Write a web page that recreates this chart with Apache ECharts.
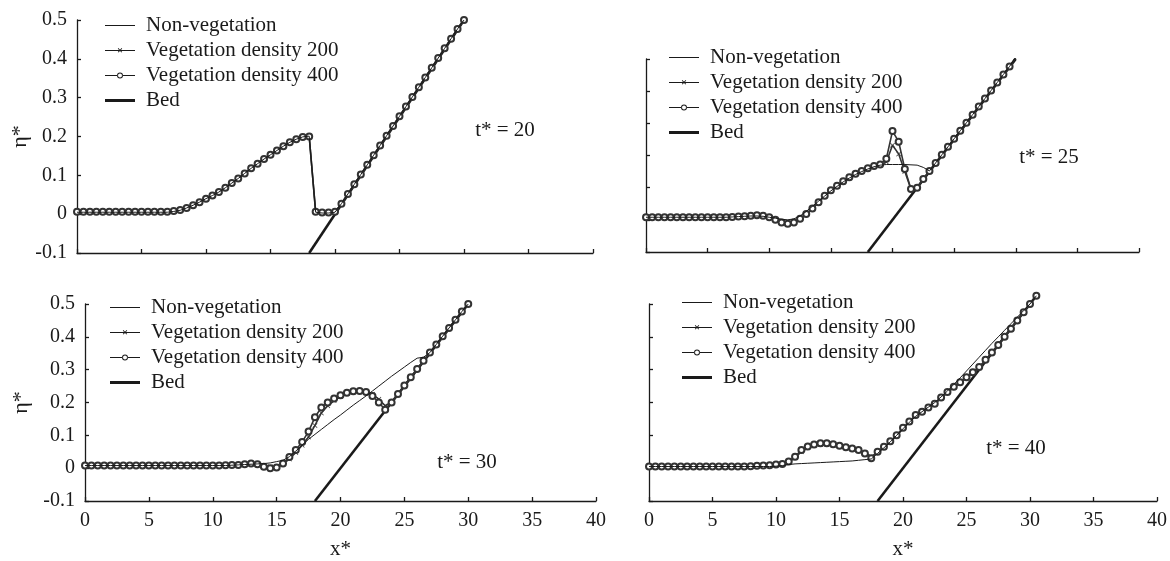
<!DOCTYPE html>
<html>
<head>
<meta charset="utf-8">
<script src="https://cdn.jsdelivr.net/npm/echarts@6/dist/echarts.min.js"></script>
<style>
  html, body { margin: 0; padding: 0; background: #fff; }
  #chart { width: 1170px; height: 561px; }
</style>
</head>
<body>
<div id="chart"></div>
<script>
// x* positions shared by every water-surface series
const xs = [0,0.5,1,1.5,2,2.5,3,3.5,4,4.5,5,5.5,6,6.5,7,7.5,8,8.5,9,9.5,
  10,10.5,11,11.5,12,12.5,13,13.5,14,14.5,15,15.5,16,16.5,17,17.5,18,18.5,19,19.5,
  20,20.5,21,21.5,22,22.5,23,23.5,24,24.5,25,25.5,26,26.5,27,27.5,28,28.5,29,29.5,30,30.5]

// t* = 20
const nv20 = [0.005,0.005,0.005,0.005,0.005,0.005,0.005,0.005,0.005,0.005,
  0.005,0.005,0.005,0.005,0.005,0.007,0.01,0.016,0.023,0.031,
  0.04,0.048,0.057,0.068,0.08,0.092,0.105,0.118,0.13,0.142,
  0.153,0.164,0.175,0.185,0.193,0.199,0.201,0.005,0.003,0.003,
  0.005,0.027,0.052,0.077,0.102,0.127,0.152,0.177,0.202,0.227,
  0.252,0.277,0.302,0.327,0.352,0.377,0.402,0.427,0.452,0.477,0.5,null]
const v200_20 = [0.006,0.006,0.006,0.006,0.006,0.006,0.006,0.006,0.006,0.006,
  0.006,0.006,0.006,0.006,0.006,0.008,0.011,0.016,0.023,0.031,
  0.04,0.048,0.057,0.068,0.08,0.092,0.105,0.118,0.13,0.142,
  0.153,0.164,0.175,0.185,0.193,0.199,0.2,0.006,0.004,0.004,
  0.006,0.027,0.052,0.077,0.102,0.127,0.152,0.177,0.202,0.227,
  0.252,0.277,0.302,0.327,0.352,0.377,0.402,0.427,0.452,0.477,0.5,null]
const v400_20 = [0.006,0.006,0.006,0.006,0.006,0.006,0.006,0.006,0.006,0.006,
  0.006,0.006,0.006,0.006,0.006,0.008,0.011,0.016,0.023,0.031,
  0.04,0.048,0.057,0.068,0.08,0.092,0.105,0.118,0.13,0.142,
  0.153,0.164,0.175,0.185,0.193,0.199,0.2,0.006,0.004,0.004,
  0.006,0.027,0.052,0.077,0.102,0.127,0.152,0.177,0.202,0.227,
  0.252,0.277,0.302,0.327,0.352,0.377,0.402,0.427,0.452,0.477,0.5,null]

// t* = 25
const nv25 = [0.008,0.008,0.008,0.008,0.008,0.008,0.008,0.008,0.008,0.008,
  0.008,0.008,0.008,0.008,0.009,0.01,0.011,0.012,0.012,0.011,
  0.008,0.005,0.002,0.0,0.003,0.012,0.026,0.042,0.058,0.074,
  0.09,0.104,0.118,0.13,0.141,0.15,0.158,0.165,0.17,0.172,
  0.172,0.172,0.172,0.171,0.17,0.163,0.152,0.177,0.202,0.227,
  0.252,0.277,0.302,0.327,0.352,0.377,0.402,0.427,0.452,0.477,0.505,null]
const v200_25 = [0.008,0.008,0.008,0.008,0.008,0.008,0.008,0.008,0.008,0.008,
  0.008,0.008,0.008,0.008,0.009,0.01,0.011,0.013,0.014,0.013,
  0.008,0.001,-0.006,-0.01,-0.007,0.003,0.018,0.035,0.055,0.074,
  0.09,0.104,0.118,0.13,0.141,0.15,0.158,0.165,0.17,0.18,
  0.232,0.205,0.15,0.095,0.1,0.127,0.152,0.177,0.202,0.227,
  0.252,0.277,0.302,0.327,0.352,0.377,0.402,0.427,0.452,0.477,0.505,null]
const v400_25 = [0.008,0.008,0.008,0.008,0.008,0.008,0.008,0.008,0.008,0.008,
  0.008,0.008,0.008,0.008,0.009,0.01,0.011,0.013,0.014,0.013,
  0.008,0.0,-0.008,-0.012,-0.008,0.003,0.018,0.035,0.055,0.075,
  0.092,0.106,0.12,0.132,0.143,0.152,0.16,0.167,0.172,0.19,
  0.276,0.243,0.158,0.096,0.1,0.127,0.152,0.177,0.202,0.227,
  0.252,0.277,0.302,0.327,0.352,0.377,0.402,0.427,0.452,0.477,0.505,null]

// t* = 30
const nv30 = [0.008,0.008,0.008,0.008,0.008,0.008,0.008,0.008,0.008,0.008,
  0.008,0.008,0.008,0.008,0.008,0.008,0.008,0.008,0.008,0.008,
  0.008,0.008,0.008,0.009,0.01,0.011,0.012,0.013,0.014,0.016,
  0.02,0.024,0.035,0.052,0.07,0.088,0.103,0.118,0.133,0.148,
  0.162,0.177,0.192,0.206,0.22,0.235,0.25,0.265,0.28,0.294,
  0.308,0.322,0.335,0.338,0.352,0.377,0.402,0.427,0.452,0.477,0.5,null]
const v200_30 = [0.008,0.008,0.008,0.008,0.008,0.008,0.008,0.008,0.008,0.008,
  0.008,0.008,0.008,0.008,0.008,0.008,0.008,0.008,0.008,0.008,
  0.008,0.008,0.009,0.01,0.01,0.012,0.014,0.013,0.008,0.004,
  0.005,0.013,0.028,0.048,0.07,0.095,0.13,0.168,0.19,0.206,
  0.218,0.227,0.232,0.234,0.233,0.225,0.21,0.19,0.2,0.226,
  0.252,0.277,0.302,0.327,0.352,0.377,0.402,0.427,0.452,0.477,0.5,null]
const v400_30 = [0.008,0.008,0.008,0.008,0.008,0.008,0.008,0.008,0.008,0.008,
  0.008,0.008,0.008,0.008,0.008,0.008,0.008,0.008,0.008,0.008,
  0.008,0.008,0.009,0.01,0.01,0.012,0.014,0.012,0.004,0.0,
  0.002,0.014,0.034,0.055,0.08,0.112,0.155,0.185,0.2,0.212,
  0.222,0.23,0.234,0.235,0.232,0.22,0.2,0.178,0.2,0.226,
  0.252,0.277,0.302,0.327,0.352,0.377,0.402,0.427,0.452,0.477,0.5,null]

// t* = 40
const nv40 = [0.005,0.005,0.005,0.005,0.005,0.005,0.005,0.005,0.005,0.005,
  0.005,0.005,0.005,0.005,0.005,0.005,0.005,0.005,0.005,0.005,
  0.006,0.008,0.011,0.013,0.014,0.015,0.016,0.017,0.018,0.019,
  0.02,0.021,0.022,0.024,0.026,0.028,0.045,0.062,0.08,0.1,
  0.12,0.14,0.158,0.172,0.186,0.2,0.217,0.235,0.255,0.275,
  0.296,0.317,0.338,0.359,0.38,0.4,0.42,0.44,0.46,0.48,0.5,0.525]
const v200_40 = [0.005,0.005,0.005,0.005,0.005,0.005,0.005,0.005,0.005,0.005,
  0.005,0.005,0.005,0.005,0.005,0.005,0.006,0.007,0.008,0.009,
  0.01,0.012,0.018,0.032,0.05,0.062,0.068,0.072,0.072,0.07,
  0.066,0.062,0.058,0.054,0.047,0.035,0.048,0.063,0.08,0.098,
  0.12,0.14,0.16,0.172,0.184,0.196,0.213,0.23,0.246,0.26,
  0.275,0.29,0.306,0.328,0.352,0.375,0.4,0.425,0.45,0.475,0.5,0.525]
const v400_40 = [0.005,0.005,0.005,0.005,0.005,0.005,0.005,0.005,0.005,0.005,
  0.005,0.005,0.005,0.005,0.005,0.005,0.006,0.007,0.008,0.009,
  0.011,0.013,0.02,0.035,0.055,0.066,0.072,0.076,0.076,0.073,
  0.068,0.064,0.06,0.055,0.045,0.03,0.05,0.065,0.082,0.1,
  0.123,0.142,0.162,0.172,0.185,0.196,0.215,0.232,0.248,0.262,
  0.277,0.292,0.308,0.33,0.352,0.375,0.4,0.425,0.45,0.475,0.5,0.525]

// bed line end points
const bedX = [18, 30]
const bedY = [-0.1, 0.5]
const bedX40 = [18, 30.5]
const bedY40 = [-0.1, 0.525]

const names = ['Non-vegetation', 'Vegetation density 200', 'Vegetation density 400', 'Bed']
const timeLabels = ['t* = 20', 't* = 25', 't* = 30', 't* = 40']
const xTicks = [0, 40, 5]        // min, max, interval
const yTicks = [-0.1, 0.5, 0.1]

const FONT = '"Liberation Serif", "Times New Roman", serif'
const INK = '#1a1a1a'
const crossPath = 'path://M0,1L1,0L5,4L9,0L10,1L6,5L10,9L9,10L5,6L1,10L0,9L4,5Z'
// legend icons drawn in a 30x12 box; tiny corner triangles keep the box so nothing gets stretched
const corners = 'M0,0L0.02,0L0,0.02Z M30,12L29.98,12L30,11.98Z '
const thinLineIcon = 'path://' + corners + 'M0,5.5H30V6.5H0Z'
const thickLineIcon = 'path://' + corners + 'M0,4.6H30V7.4H0Z'
const crossIcon = 'path://' + corners + 'M0,5.5H30V6.5H0Z ' +
  'M12.8,4.2L13.4,3.6L15,5.2L16.6,3.6L17.2,4.2L15.6,5.8L17.2,7.4L16.6,8L15,6.4L13.4,8L12.8,7.4L14.4,5.8Z'
const circleIcon = 'path://' + corners + 'M0,5.5H12.2V6.5H0Z M17.8,5.5H30V6.5H17.8Z ' +
  'M18,6A3,3 0 1,0 12,6A3,3 0 1,0 18,6Z M17,6A2,2 0 1,1 13,6A2,2 0 1,1 17,6Z'

const pairs = (xv, yv) => xv.map((x, i) => [x, yv[i]]).filter(p => p[1] !== null && p[1] !== undefined)

const panels = [
  { grid: { left: 77, top: 20, width: 516, height: 233 }, yLab: true, xLab: false,
    legend: { left: 105, top: 15 }, label: [505, 130], data: [nv20, v200_20, v400_20], bed: [bedX, bedY] },
  { grid: { left: 646, top: 59, width: 493, height: 193 }, yLab: false, xLab: false,
    legend: { left: 669, top: 47 }, label: [1049, 157], data: [nv25, v200_25, v400_25], bed: [bedX, bedY] },
  { grid: { left: 85, top: 304, width: 511, height: 200 }, yLab: true, xLab: true,
    legend: { left: 110, top: 297 }, label: [467, 462], data: [nv30, v200_30, v400_30], bed: [bedX, bedY] },
  { grid: { left: 649, top: 304, width: 508, height: 200 }, yLab: false, xLab: true,
    legend: { left: 682, top: 292 }, label: [1016, 448], data: [nv40, v200_40, v400_40], bed: [bedX40, bedY40] },
]

const axisLine = { show: true, onZero: false, lineStyle: { color: INK, width: 1.3 } }
const axisTick = { show: true, inside: true, length: 4, lineStyle: { color: INK, width: 1.3 } }
const labelStyle = { fontSize: 20, fontFamily: FONT, color: INK, margin: 10 }

const grid = [], xAxis = [], yAxis = [], legend = [], series = [], graphic = []

panels.forEach((p, i) => {
  grid.push(Object.assign({ containLabel: false }, p.grid))
  xAxis.push({
    gridIndex: i, type: 'value', min: xTicks[0], max: xTicks[1], interval: xTicks[2],
    axisLine, axisTick, splitLine: { show: false },
    axisLabel: Object.assign({ show: p.xLab }, labelStyle),
    name: p.xLab ? 'x*' : '', nameLocation: 'middle', nameGap: 38,
    nameTextStyle: { fontSize: 21, fontFamily: FONT, color: INK },
  })
  yAxis.push({
    gridIndex: i, type: 'value', min: yTicks[0], max: yTicks[1], interval: yTicks[2],
    axisLine, axisTick, splitLine: { show: false },
    axisLabel: Object.assign({ show: p.yLab }, labelStyle),
    name: p.yLab ? 'η*' : '', nameLocation: 'middle', nameRotate: 90, nameGap: i === 0 ? 45 : 53,
    nameTextStyle: { fontSize: 22, fontFamily: FONT, color: INK },
  })
  legend.push({
    orient: 'vertical', left: p.legend.left, top: p.legend.top,
    itemWidth: 30, itemHeight: 12, itemGap: 4, padding: 0,
    itemStyle: { color: INK, borderWidth: 0 },
    textStyle: { fontSize: 21, fontFamily: FONT, color: INK, padding: [0, 0, 0, 6] },
    data: [
      { name: names[0], icon: thinLineIcon },
      { name: names[1], icon: crossIcon },
      { name: names[2], icon: circleIcon },
      { name: names[3], icon: thickLineIcon },
    ],
  })
  const base = { type: 'line', xAxisIndex: i, yAxisIndex: i, animation: false, clip: i !== 3 }
  series.push(Object.assign({}, base, {
    name: names[0], data: pairs(xs, p.data[0]), symbol: 'none', z: 4,
    lineStyle: { color: INK, width: 1 }, itemStyle: { color: INK },
  }))
  series.push(Object.assign({}, base, {
    name: names[1], data: pairs(xs, p.data[1]), symbol: crossPath, symbolSize: 5, showAllSymbol: true, z: 2,
    lineStyle: { color: '#333', width: 1.6 }, itemStyle: { color: '#333' },
  }))
  series.push(Object.assign({}, base, {
    name: names[2], data: pairs(xs, p.data[2]), symbol: 'emptyCircle', symbolSize: 6, showAllSymbol: true, z: 3,
    lineStyle: { color: '#333', width: 1.6 }, itemStyle: { color: '#333', borderWidth: 1.2 },
  }))
  series.push(Object.assign({}, base, {
    name: names[3], data: pairs(p.bed[0], p.bed[1]), symbol: 'none', z: 1,
    lineStyle: { color: INK, width: 2.6 }, itemStyle: { color: INK },
  }))
  graphic.push({
    type: 'text', x: p.label[0], y: p.label[1],
    style: { text: timeLabels[i], fontSize: 21, fontFamily: FONT, fill: INK, align: 'center', verticalAlign: 'middle' },
  })
})

const options = { backgroundColor: '#fff', animation: false, grid, xAxis, yAxis, legend, series, graphic }

const chart = echarts.init(document.getElementById('chart'), null, { renderer: 'canvas' })
chart.setOption(options)
window.addEventListener('resize', function () {
  chart && chart.resize()
})
</script>
</body>
</html>
